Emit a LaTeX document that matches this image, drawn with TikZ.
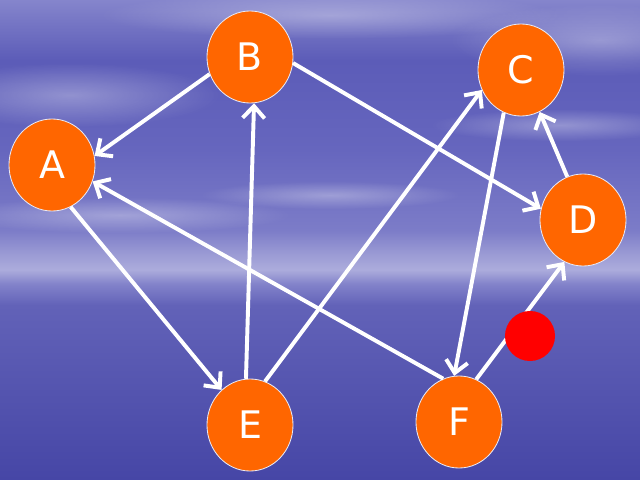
\documentclass[tikz,border=0pt]{standalone}
\usepackage{fontspec}
\newfontfamily\vertexfont{DejaVu Sans}
\usepackage{tikz}
\usetikzlibrary{arrows.meta,shapes.geometric,fadings}
\definecolor{vorange}{HTML}{FF6600}
\definecolor{vring}{HTML}{E8E8F4}
\definecolor{sea0}{HTML}{4646A6}
\definecolor{sea1}{HTML}{5656B0}
\definecolor{sea2}{HTML}{6262B8}
\definecolor{sea3}{HTML}{8282CA}
\definecolor{horizon}{HTML}{ACACDC}
\definecolor{sky3}{HTML}{9A9AD4}
\definecolor{sky2}{HTML}{7C7CC8}
\definecolor{sky1}{HTML}{6666BE}
\definecolor{sky0}{HTML}{5C5CB8}
\definecolor{skytop}{HTML}{8585CC}
\pgfdeclareverticalshading{seasky}{100bp}{%
  color(0bp)=(sea0); color(25bp)=(sea0); color(35.4bp)=(sea1);
  color(43.2bp)=(sea2); color(45.4bp)=(sea3); color(46.9bp)=(horizon);
  color(48.6bp)=(sky3); color(51bp)=(sky2); color(59.4bp)=(sky1);
  color(68.7bp)=(sky0); color(75bp)=(skytop); color(100bp)=(skytop)}
\tikzfading[name=softoval, inner color=transparent!10, outer color=transparent!100]
\tikzset{
  vertex/.style={ellipse, fill=vorange, draw=vring, line width=0.6pt,
                 minimum width=2.15cm, minimum height=2.3cm, inner sep=0pt,
                 text=white, font=\vertexfont\fontsize{27}{27}\selectfont},
  marker/.style={circle, fill=red, minimum size=1.25cm, inner sep=0pt},
  link/.style={-{Straight Barb[length=3mm,width=5.5mm]}, draw=white, line width=2.8pt},
  cloud/.style={white, opacity=0.35, path fading=softoval}
}
\begin{document}
\begin{tikzpicture}[x=0.025cm, y=-0.025cm]
% background: sky and sea
\useasboundingbox (0,0) rectangle (640,480);
\shade[shading=seasky] (0,0) rectangle (640,480);
\foreach \cx/\cy/\rx/\ry in {330/15/230/24, 70/95/150/32, 120/215/170/18,
                            600/40/150/36, 560/125/130/16, 330/195/130/14}
  \fill[cloud] (\cx,\cy) ellipse [x radius=\rx, y radius=\ry];

\node[vertex] (a) at (52,165) {A};
\node[vertex] (b) at (250,57) {B};
\node[vertex] (c) at (521,70) {C};
\node[vertex] (d) at (583,220) {D};
\node[vertex] (e) at (250,425) {E};
\node[vertex] (f) at (459,422) {F};

\draw[link] (b.203) -- (a.12);
\draw[link] (b.-8) -- (d.165);
\draw[link] (a.-66) -- (e.129);
\draw[link] (e.95) -- (b.-85);
\draw[link] (e.71) -- (c.207);
\draw[link] (c.248) -- (f.96);
\draw[link] (f.110) -- (a.-22);
\draw[link] (f.68) -- (d.246);
\draw[link] (d.110) -- (c.-66);

\node[marker] (dot) at (530,336) {};
\end{tikzpicture}
\end{document}
